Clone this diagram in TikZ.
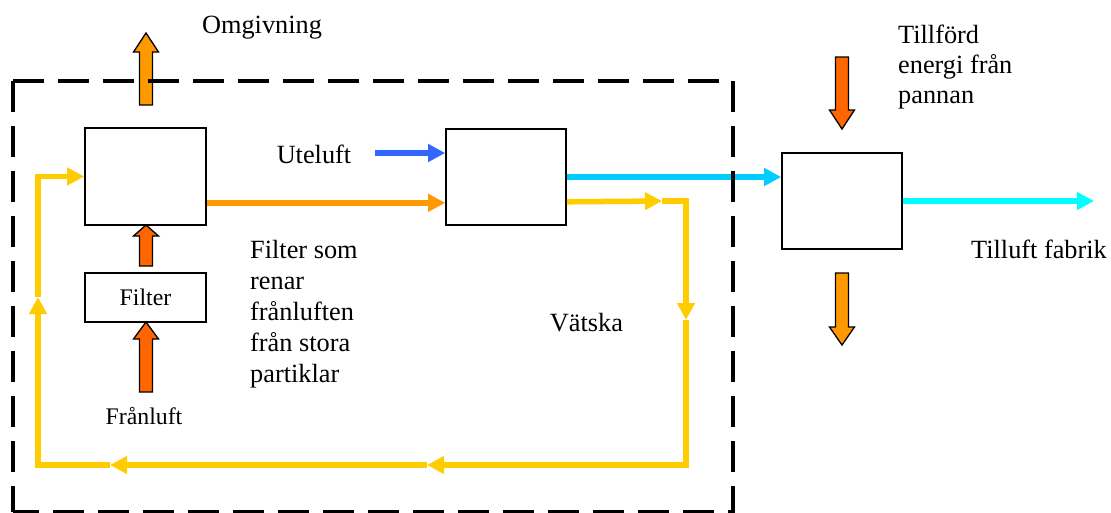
\documentclass[tikz,border=0pt]{standalone}
\usepackage{fontspec}
\setmainfont{Liberation Serif}
\usetikzlibrary{arrows.meta}

\definecolor{luftblue}{HTML}{3366FF}
\definecolor{warmorange}{HTML}{FF9900}
\definecolor{hotorange}{HTML}{FF6600}
\definecolor{tilluftcyan}{HTML}{00CCFF}
\definecolor{fabrikcyan}{HTML}{00FFFF}
\definecolor{liquid}{HTML}{FFCC00}

\tikzset{
  unit/.style={draw=black, line width=1.6pt, fill=white, inner sep=0pt},
  label/.style={inner sep=0pt, font=\fontsize{26.3}{31}\selectfont},
  smalllabel/.style={inner sep=0pt, font=\fontsize{23.8}{28}\selectfont},
  flow/.style={line width=5.5pt, line join=miter, draw=#1,
    -{Triangle[length=17pt,width=17pt]}},
  fat/.style={draw=black, line width=1.3pt, line join=miter},
  boundary/.style={draw=black, line width=4pt, dash pattern=on 31pt off 14pt}
}

% vertical block arrow: #1 x, #2 tail y, #3 tip y, #4 head base y, #5 fill
\newcommand\vblockarrow[5]{%
  \draw[fat, fill=#5] (#1-6.5,#2) -- (#1-6.5,#4) -- (#1-12.5,#4) -- (#1,#3)
    -- (#1+12.5,#4) -- (#1+6.5,#4) -- (#1+6.5,#2) -- cycle;}

\begin{document}
\begin{tikzpicture}[x=1pt, y=-1pt]
\useasboundingbox (0,0) rectangle (1111,512);

% process units
\node[unit, minimum width=121pt, minimum height=97pt] (A) at (145.5,176.5) {};
\node[unit, minimum width=121pt, minimum height=49pt, smalllabel] (filt) at (145.5,297.5) {Filter};
\node[unit, minimum width=120pt, minimum height=96pt] (B) at (506,177) {};
\node[unit, minimum width=120pt, minimum height=96pt] (C) at (842,201) {};

% texts
\node[label, anchor=base] (omg) at (262,33) {Omgivning};
\node[label, anchor=base] (ute) at (314,163) {Uteluft};
\node[label, anchor=north west, align=left] (filtertext) at (250,240)
  {Filter som\\renar\\frånluften\\från stora\\partiklar};
\node[smalllabel, anchor=base] (franluft) at (144,424) {Frånluft};
\node[label, anchor=base] (vatska) at (586.5,331) {Vätska};
\node[label, anchor=north west, align=left, font=\fontsize{26.3}{30}\selectfont] (energi) at (898,25)
  {Tillförd\\energi från\\pannan};
\node[label, anchor=base west] (tilluft) at (971,258) {Tilluft fabrik};

% block arrows (heat and exhaust air)
\vblockarrow{146}{105}{33}{52}{warmorange}
\vblockarrow{146}{266}{225}{236}{hotorange}
\vblockarrow{146}{392}{322}{339}{hotorange}
\vblockarrow{842}{57}{129}{110}{hotorange}
\vblockarrow{842}{273}{345}{327}{warmorange}

% air streams
\coordinate (uteStart) at (375,153);
\draw[flow=luftblue] (uteStart) -- (uteStart -| B.west);
\coordinate (aOut) at ([yshift=23pt]A.south east);
\draw[flow=warmorange] (aOut) -- (aOut -| B.west);
\draw[flow=tilluftcyan] (B.east) -- (B.east -| C.west);
\coordinate (fabrik) at (1094,201);
\draw[flow=fabrikcyan] (C.east) -- (fabrik);

% liquid circuit
\coordinate (bOut) at ([yshift=24pt]B.south east);
\coordinate (l1) at (662,201);
\coordinate (l2) at (686,320);
\coordinate (l3) at (427,465);
\coordinate (l4) at (110,465);
\coordinate (l5) at (38,297);
\draw[flow=liquid] (bOut) -- (l1);
\draw[flow=liquid] (l1) -- (686,201) -- (l2);
\draw[flow=liquid] (l2) -- (686,465) -- (l3);
\draw[flow=liquid] (l3) -- (l4);
\draw[flow=liquid] (l4) -- (38,465) -- (l5);
\draw[flow=liquid] (l5) -- (38,176.5) -- (A.west);

% system boundary, dashes phased from the top left corner
\draw[boundary] (13,81) -- (733,81) -- (733,512) -- (13,512);
\draw[boundary] (13,81) -- (13,512);
\end{tikzpicture}
\end{document}
